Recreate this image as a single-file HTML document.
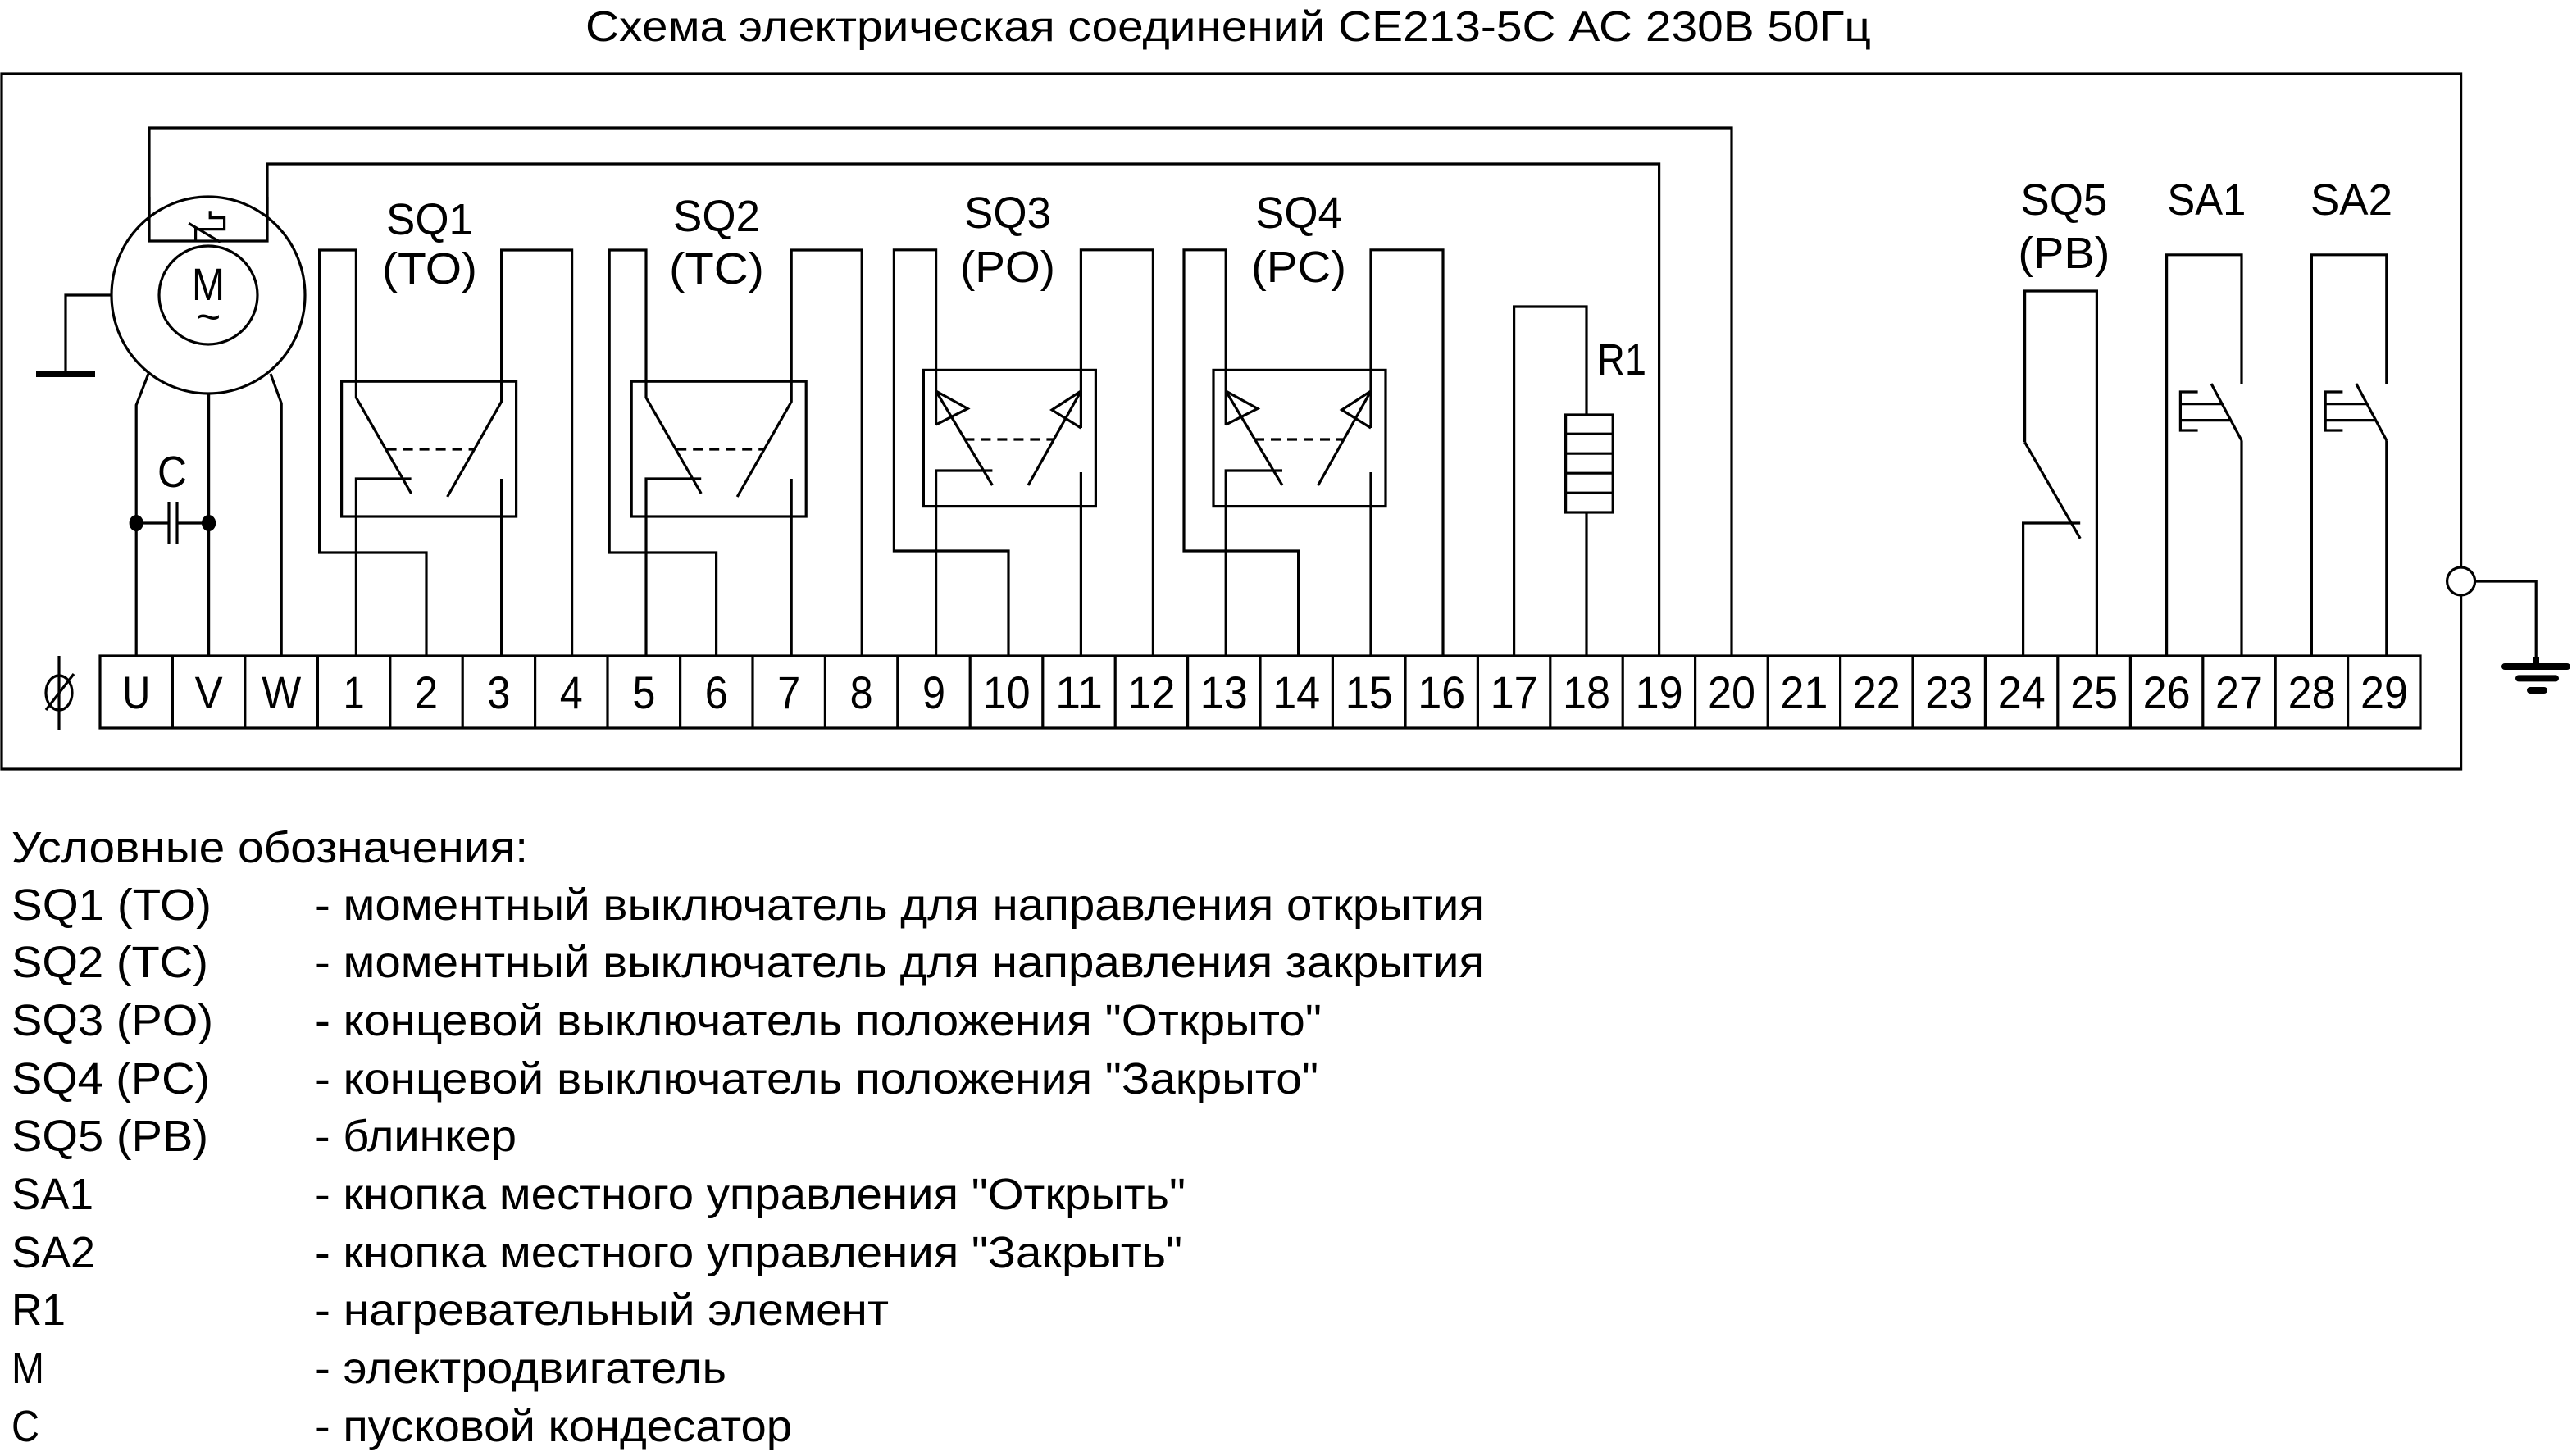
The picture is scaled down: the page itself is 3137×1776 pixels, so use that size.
<!DOCTYPE html>
<html><head><meta charset="utf-8"><style>
html,body{margin:0;padding:0;background:#fff;}
svg{display:block;}
text{font-family:"Liberation Sans",sans-serif;fill:#000;}
</style></head><body>
<svg width="3137" height="1776" viewBox="0 0 1568.5 888" xmlns="http://www.w3.org/2000/svg">
<g fill="none" stroke="#000" stroke-width="1.6" stroke-linejoin="miter">
<rect x="1" y="45" width="1499.8" height="424"/>
<rect x="61" y="400" width="1415" height="44"/>
<path d="M105.2,400V444M149.4,400V444M193.7,400V444M237.9,400V444M282.1,400V444M326.3,400V444M370.5,400V444M414.8,400V444M459,400V444M503.2,400V444M547.4,400V444M591.6,400V444M635.9,400V444M680.1,400V444M724.3,400V444M768.5,400V444M812.7,400V444M857,400V444M901.2,400V444M945.4,400V444M989.6,400V444M1033.8,400V444M1078.1,400V444M1122.3,400V444M1166.5,400V444M1210.7,400V444M1254.9,400V444M1299.2,400V444M1343.4,400V444M1387.6,400V444M1431.8,400V444"/>
<path d="M36,400V445M28,433L45,411"/>
<ellipse cx="36" cy="422.5" rx="8" ry="10.5"/>
<path d="M1056,400V78H91V147H163V100H1011.8V400"/>
<ellipse cx="127" cy="180" rx="59" ry="60" fill="#fff"/>
<path d="M91,120V147H163V120" />
<path d="M128.1,128.6V132.8H136.8V139.8H119.3V147.7M115.1,136.2L134.4,147.7"/>
<circle cx="127" cy="180" r="30"/>
<path d="M68,180H40V227"/>
<path d="M22,228H58" stroke-width="4"/>
<path d="M90.5,228L83.1,247V400M127.3,240V400M165,228L171.6,246V400"/>
<path d="M83.1,319H103M108,319H127.3M103,306V332M108,306V332"/>
<ellipse cx="83.1" cy="319" rx="3.5" ry="4.2" fill="#000"/>
<ellipse cx="127.3" cy="319" rx="3.5" ry="4.2" fill="#000"/>
<path d="M260,400V337H194.8V152.5H217.2V242.5L250.8,301M217.2,400V292H250.8M305.8,400V292M348.8,400V152.5H305.8V245L272.8,303"/>
<path d="M235.8,274H289.3" stroke-dasharray="6,4"/>
<rect x="208.3" y="232.6" width="106.5" height="82.4"/>
<path d="M436.8,400V337H371.6V152.5H394V242.5L427.6,301M394,400V292H427.6M482.6,400V292M525.6,400V152.5H482.6V245L449.6,303"/>
<path d="M412.6,274H466.1" stroke-dasharray="6,4"/>
<rect x="385.1" y="232.6" width="106.5" height="82.4"/>
<path d="M615,400V336H545.2V152.4H570.8V259M570.8,238.5L590.1,249.2L570.8,259M570.8,238.5L605.2,296M570.8,400V287H605.2M659.2,400V288M703.2,400V152.4H659.2V261M659.2,238.5L641.5,250L659.2,261M659.2,238.5L627,296"/>
<path d="M588.2,268H642.7" stroke-dasharray="6,4"/>
<rect x="563.2" y="225.7" width="105" height="83.1"/>
<path d="M791.8,400V336H722V152.4H747.6V259M747.6,238.5L766.9,249.2L747.6,259M747.6,238.5L782,296M747.6,400V287H782M836,400V288M880,400V152.4H836V261M836,238.5L818.3,250L836,261M836,238.5L803.8,296"/>
<path d="M765,268H819.5" stroke-dasharray="6,4"/>
<rect x="740" y="225.7" width="105" height="83.1"/>
<path d="M923.3,400V187H967.5V253M967.5,312.5V400"/>
<rect x="954.8" y="253" width="28.8" height="59.5"/>
<path d="M954.8,264.6H983.6M954.8,276.6H983.6M954.8,288.6H983.6M954.8,300.6H983.6"/>
<path d="M1233.8,400V319H1268.6M1234.8,269.7V177.5H1278.7V400M1234.8,269.7L1268.6,328.4"/>
<path d="M1321.3,400V155.4H1367V234M1367,268.6V400M1348.5,234L1367,268.6M1340.3,239H1329.7V262.5H1340.3M1329.7,246.3H1355.1M1329.7,256.3H1360.4"/>
<path d="M1409.7,400V155.4H1455.4V234M1455.4,268.6V400M1436.9,234L1455.4,268.6M1428.7,239H1418.1V262.5H1428.7M1418.1,246.3H1443.5M1418.1,256.3H1448.8"/>
<path d="M1509.3,354.5H1546.6V404"/>
<circle cx="1500.8" cy="354.5" r="8.5" fill="#fff"/>
<path d="M1527.5,406.5H1565.5M1536,413.7H1558.5M1543,421H1551.5" stroke-width="4" stroke-linecap="round"/>
<rect x="1544.5" y="401" width="4" height="5" fill="#000" stroke="none"/>
</g>
<text x="127" y="183" font-size="28" text-anchor="middle" textLength="20" lengthAdjust="spacingAndGlyphs">M</text>
<text x="127" y="202" font-size="26" text-anchor="middle">~</text>
<text x="105" y="297" font-size="27" text-anchor="middle" textLength="18" lengthAdjust="spacingAndGlyphs">C</text>
<g font-size="27" text-anchor="middle">
<text x="262" y="143" textLength="53" lengthAdjust="spacingAndGlyphs">SQ1</text>
<text x="262" y="173" textLength="58" lengthAdjust="spacingAndGlyphs">(TO)</text>
<text x="437" y="141" textLength="53" lengthAdjust="spacingAndGlyphs">SQ2</text>
<text x="437" y="173" textLength="58" lengthAdjust="spacingAndGlyphs">(TC)</text>
<text x="614.5" y="139" textLength="53" lengthAdjust="spacingAndGlyphs">SQ3</text>
<text x="614.5" y="172" textLength="58" lengthAdjust="spacingAndGlyphs">(PO)</text>
<text x="792" y="139" textLength="53" lengthAdjust="spacingAndGlyphs">SQ4</text>
<text x="792" y="172" textLength="58" lengthAdjust="spacingAndGlyphs">(PC)</text>
<text x="989" y="228.5" textLength="30" lengthAdjust="spacingAndGlyphs">R1</text>
<text x="1258.7" y="131" textLength="53" lengthAdjust="spacingAndGlyphs">SQ5</text>
<text x="1258.7" y="163.5" textLength="56" lengthAdjust="spacingAndGlyphs">(PB)</text>
<text x="1345.7" y="131" textLength="48" lengthAdjust="spacingAndGlyphs">SA1</text>
<text x="1434" y="131" textLength="50" lengthAdjust="spacingAndGlyphs">SA2</text>
</g>
<g font-size="28" text-anchor="middle">
<text x="83.1" y="432" textLength="17" lengthAdjust="spacingAndGlyphs">U</text><text x="127.3" y="432" textLength="17" lengthAdjust="spacingAndGlyphs">V</text><text x="171.6" y="432" textLength="24" lengthAdjust="spacingAndGlyphs">W</text>
<text x="215.8" y="432" textLength="13" lengthAdjust="spacingAndGlyphs">1</text><text x="260" y="432" textLength="14" lengthAdjust="spacingAndGlyphs">2</text><text x="304.2" y="432" textLength="14" lengthAdjust="spacingAndGlyphs">3</text><text x="348.4" y="432" textLength="14" lengthAdjust="spacingAndGlyphs">4</text>
<text x="392.7" y="432" textLength="14" lengthAdjust="spacingAndGlyphs">5</text><text x="436.9" y="432" textLength="14" lengthAdjust="spacingAndGlyphs">6</text><text x="481.1" y="432" textLength="14" lengthAdjust="spacingAndGlyphs">7</text><text x="525.3" y="432" textLength="14" lengthAdjust="spacingAndGlyphs">8</text>
<text x="569.5" y="432" textLength="14" lengthAdjust="spacingAndGlyphs">9</text>
<text x="613.8" y="432" textLength="29" lengthAdjust="spacingAndGlyphs">10</text><text x="658" y="432" textLength="29" lengthAdjust="spacingAndGlyphs">11</text><text x="702.2" y="432" textLength="29" lengthAdjust="spacingAndGlyphs">12</text>
<text x="746.4" y="432" textLength="29" lengthAdjust="spacingAndGlyphs">13</text><text x="790.6" y="432" textLength="29" lengthAdjust="spacingAndGlyphs">14</text><text x="834.9" y="432" textLength="29" lengthAdjust="spacingAndGlyphs">15</text>
<text x="879.1" y="432" textLength="29" lengthAdjust="spacingAndGlyphs">16</text><text x="923.3" y="432" textLength="29" lengthAdjust="spacingAndGlyphs">17</text><text x="967.5" y="432" textLength="29" lengthAdjust="spacingAndGlyphs">18</text>
<text x="1011.8" y="432" textLength="29" lengthAdjust="spacingAndGlyphs">19</text><text x="1056" y="432" textLength="29" lengthAdjust="spacingAndGlyphs">20</text><text x="1100.2" y="432" textLength="29" lengthAdjust="spacingAndGlyphs">21</text>
<text x="1144.4" y="432" textLength="29" lengthAdjust="spacingAndGlyphs">22</text><text x="1188.6" y="432" textLength="29" lengthAdjust="spacingAndGlyphs">23</text><text x="1232.9" y="432" textLength="29" lengthAdjust="spacingAndGlyphs">24</text>
<text x="1277.1" y="432" textLength="29" lengthAdjust="spacingAndGlyphs">25</text><text x="1321.3" y="432" textLength="29" lengthAdjust="spacingAndGlyphs">26</text><text x="1365.5" y="432" textLength="29" lengthAdjust="spacingAndGlyphs">27</text>
<text x="1409.8" y="432" textLength="29" lengthAdjust="spacingAndGlyphs">28</text><text x="1454" y="432" textLength="29" lengthAdjust="spacingAndGlyphs">29</text>
</g>
<text x="357" y="25" font-size="26" textLength="784" lengthAdjust="spacingAndGlyphs">Схема электрическая соединений СЕ213-5С  АС 230В 50Гц</text>
<g font-size="27">
<text x="7" y="526" textLength="315" lengthAdjust="spacingAndGlyphs">Условные обозначения:</text>
<text x="7" y="561" textLength="122" lengthAdjust="spacingAndGlyphs">SQ1 (TO)</text>
<text x="7" y="596" textLength="120" lengthAdjust="spacingAndGlyphs">SQ2 (TC)</text>
<text x="7" y="631.5" textLength="123" lengthAdjust="spacingAndGlyphs">SQ3 (PO)</text>
<text x="7" y="667" textLength="121" lengthAdjust="spacingAndGlyphs">SQ4 (PC)</text>
<text x="7" y="702" textLength="120" lengthAdjust="spacingAndGlyphs">SQ5 (PB)</text>
<text x="7" y="737.5" textLength="50" lengthAdjust="spacingAndGlyphs">SA1</text>
<text x="7" y="773" textLength="51" lengthAdjust="spacingAndGlyphs">SA2</text>
<text x="7" y="808" textLength="33" lengthAdjust="spacingAndGlyphs">R1</text>
<text x="7" y="843.5" textLength="20" lengthAdjust="spacingAndGlyphs">M</text>
<text x="7" y="879" textLength="17" lengthAdjust="spacingAndGlyphs">C</text>
<text x="192" y="561" textLength="713" lengthAdjust="spacingAndGlyphs">- моментный выключатель для направления открытия</text>
<text x="192" y="596" textLength="713" lengthAdjust="spacingAndGlyphs">- моментный выключатель для направления закрытия</text>
<text x="192" y="631.5" textLength="614" lengthAdjust="spacingAndGlyphs">- концевой выключатель положения "Открыто"</text>
<text x="192" y="667" textLength="612" lengthAdjust="spacingAndGlyphs">- концевой выключатель положения "Закрыто"</text>
<text x="192" y="702" textLength="123" lengthAdjust="spacingAndGlyphs">- блинкер</text>
<text x="192" y="737.5" textLength="531" lengthAdjust="spacingAndGlyphs">- кнопка местного управления "Открыть"</text>
<text x="192" y="773" textLength="529" lengthAdjust="spacingAndGlyphs">- кнопка местного управления "Закрыть"</text>
<text x="192" y="808" textLength="350" lengthAdjust="spacingAndGlyphs">- нагревательный элемент</text>
<text x="192" y="843.5" textLength="251" lengthAdjust="spacingAndGlyphs">- электродвигатель</text>
<text x="192" y="879" textLength="291" lengthAdjust="spacingAndGlyphs">- пусковой кондесатор</text>
</g>
</svg>
</body></html>
